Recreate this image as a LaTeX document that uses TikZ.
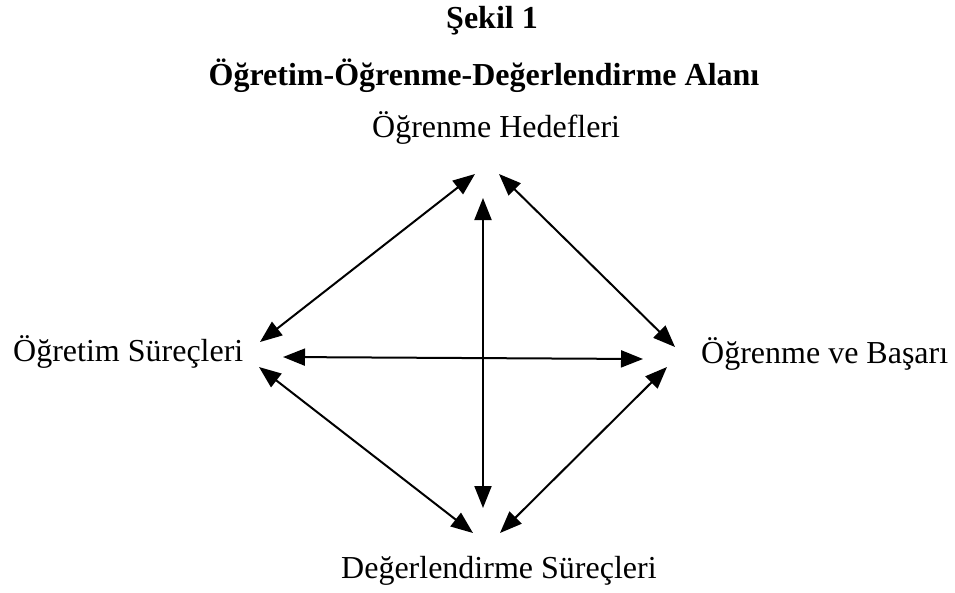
\documentclass[tikz,border=0pt]{standalone}
\usepackage{fontspec}
\setmainfont{Liberation Serif}
\usetikzlibrary{arrows.meta}

\begin{document}
\begin{tikzpicture}[x=1pt,y=-1pt,
    every node/.style={font=\fontsize{32}{38}\selectfont,inner sep=0pt},
    baslik/.style={font=\fontsize{32}{38}\selectfont\bfseries},
    iliski/.style={{Triangle[length=22pt,width=17pt]}-{Triangle[length=22pt,width=17pt]},line width=2pt}]
  \useasboundingbox (0,0) rectangle (955,592);
  % başlıklar
  \node[baslik,anchor=base] (sekil) at (492,28) {Şekil 1};
  \node[baslik,anchor=base] (alan) at (484,85) {Öğretim-Öğrenme-Değerlendirme Alanı};
  % köşeler
  \node[anchor=base west] (hedef) at (372,137) {Öğrenme Hedefleri};
  \node[anchor=base west] (ogretim) at (13,361) {Öğretim Süreçleri};
  \node[anchor=base west] (basari) at (701,363) {Öğrenme ve Başarı};
  \node[anchor=base west] (deger) at (341,578) {Değerlendirme Süreçleri};
  % ok uçları
  \coordinate (hedefSol) at (475,174);
  \coordinate (hedefSag) at (499,174);
  \coordinate (hedefAlt) at (483,198);
  \coordinate (ogretimUst) at (260,342);
  \coordinate (ogretimOrta) at (283,357);
  \coordinate (ogretimAlt) at (259,367);
  \coordinate (basariUst) at (675,347);
  \coordinate (basariOrta) at (643,359);
  \coordinate (basariAlt) at (667,367);
  \coordinate (degerSol) at (473,533);
  \coordinate (degerSag) at (500,533);
  \coordinate (degerUst) at (483,508);
  % oklar
  \draw[iliski] (hedefSol) -- (ogretimUst);
  \draw[iliski] (hedefSag) -- (basariUst);
  \draw[iliski] (hedefAlt) -- (degerUst);
  \draw[iliski] (ogretimOrta) -- (basariOrta);
  \draw[iliski] (ogretimAlt) -- (degerSol);
  \draw[iliski] (basariAlt) -- (degerSag);
\end{tikzpicture}
\end{document}
